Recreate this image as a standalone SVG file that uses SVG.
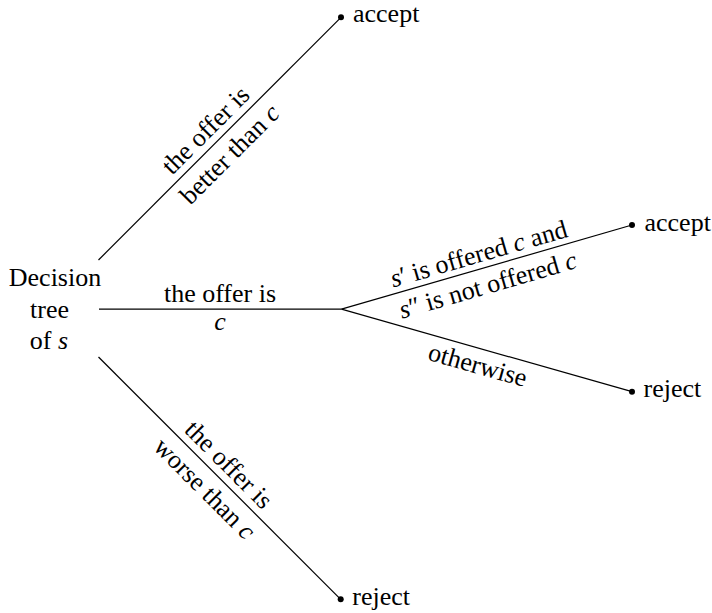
<svg xmlns="http://www.w3.org/2000/svg" width="712" height="613" viewBox="0 0 712 613" font-family="Liberation Serif, serif" font-size="26">
<style>
  text { font-family: 'Liberation Serif', serif; font-size: 26px; fill: #000; }
  .m { text-anchor: middle; }
  .i { font-style: italic; }
  .edge { stroke: #000; stroke-width: 1.2; fill: none; }
</style>
<defs>
  <circle id="dot" r="3" fill="#000"/>
</defs>
<rect width="712" height="613" fill="#fff"/>
<g id="connectors">
  <line class="edge" x1="98.5" y1="260" x2="341" y2="17.3"/>
  <line class="edge" x1="99" y1="309.2" x2="341.5" y2="309.2"/>
  <line class="edge" x1="98.5" y1="357" x2="340.7" y2="599.3"/>
  <line class="edge" x1="341.5" y1="309.2" x2="632" y2="225"/>
  <line class="edge" x1="341.5" y1="309.2" x2="632" y2="391.7"/>
</g>
<g id="labels">
  <g transform="translate(219.75,138.65) rotate(-45)">
    <text class="m" x="-4" y="-7.5">the offer is</text>
    <text class="m" x="-4" y="26.5">better than <tspan class="i">c</tspan></text>
  </g>
  <text class="m" x="220" y="301.5">the offer is</text>
  <text class="m i" x="220" y="329.5">c</text>
  <g transform="translate(219.6,478.15) rotate(45)">
    <text class="m" x="-3" y="-7.5">the offer is</text>
    <text class="m" x="-3" y="26.5">worse than <tspan class="i">c</tspan></text>
  </g>
  <g transform="translate(486.75,267.1) rotate(-16.17)">
    <text class="m" x="-4" y="-6.5"><tspan class="i">s</tspan>&#8242; is offered <tspan class="i">c</tspan> and</text>
    <text class="m" x="-4" y="26"><tspan class="i">s</tspan>&#8243; is not offered <tspan class="i">c</tspan></text>
  </g>
  <g transform="translate(486.75,350.45) rotate(15.85)">
    <text class="m" x="-4.7" y="25">otherwise</text>
  </g>
</g>
<g id="root">
  <text class="m" x="55" y="286">Decision</text>
  <text class="m" x="49.5" y="318.3">tree</text>
  <text class="m" x="49" y="349.3">of <tspan class="i">s</tspan></text>
</g>
<g id="accept1">
  <use href="#dot" x="341" y="17.3"/>
  <text x="353" y="21.5">accept</text>
</g>
<g id="accept2">
  <use href="#dot" x="632" y="225"/>
  <text x="644.5" y="230.5">accept</text>
</g>
<g id="reject1">
  <use href="#dot" x="632" y="391.7"/>
  <text x="643.5" y="396.7">reject</text>
</g>
<g id="reject2">
  <use href="#dot" x="340.7" y="599.3"/>
  <text x="352.3" y="605">reject</text>
</g>
</svg>
